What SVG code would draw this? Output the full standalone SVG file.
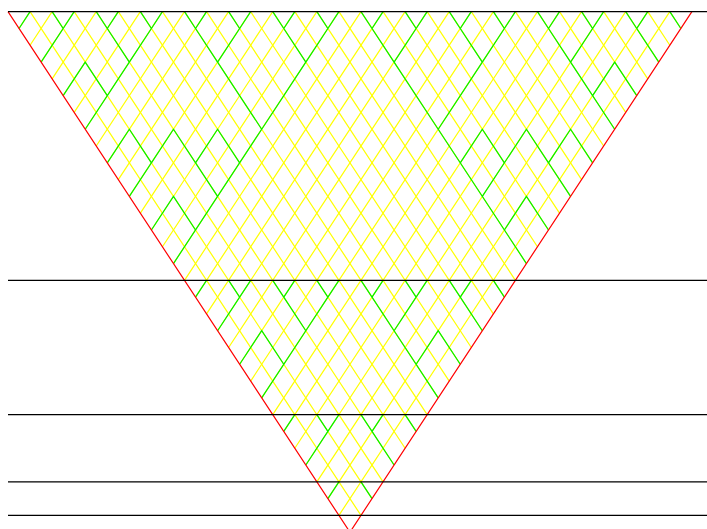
<svg xmlns="http://www.w3.org/2000/svg" width="707" height="529" viewBox="0 0 707 529">
<style>
path{fill:none;stroke-width:1.2;vector-effect:non-scaling-stroke;stroke-linecap:butt}
.y{stroke:#ffff00}
.g{stroke:#00f000}
.r{stroke:#ff0000}
.k{stroke:#000000;stroke-width:1.2}
</style>
<rect width="707" height="529" fill="#ffffff"/>
<g id="lattice" transform="matrix(11.0306 0 0 16.79 8 11.7)">
<path id="yellow-dr" class="y" d="M2 0L32 30M4 0L33 29M6 0L34 28M8 0L35 27M10 0L36 26M12 0L37 25M14 0L38 24M16 0L39 23M18 0L40 22M20 0L41 21M22 0L42 20M24 0L43 19M26 0L44 18M28 0L45 17M30 0L46 16M32 0L47 15M34 0L48 14M36 0L49 13M38 0L50 12M40 0L51 11M42 0L52 10M44 0L53 9M46 0L54 8M48 0L55 7M50 0L56 6M52 0L57 5M54 0L58 4M56 0L59 3M58 0L60 2M60 0L61 1"/>
<path id="yellow-dl" class="y" d="M2 0L1 1M4 0L2 2M6 0L3 3M8 0L4 4M10 0L5 5M12 0L6 6M14 0L7 7M16 0L8 8M18 0L9 9M20 0L10 10M22 0L11 11M24 0L12 12M26 0L13 13M28 0L14 14M30 0L15 15M32 0L16 16M34 0L17 17M36 0L18 18M38 0L19 19M40 0L20 20M42 0L21 21M44 0L22 22M46 0L23 23M48 0L24 24M50 0L25 25M52 0L26 26M54 0L27 27M56 0L28 28M58 0L29 29M60 0L30 30"/>
<path id="green-a-left" class="g" d="M2 0L1 1M4 0L5 1L3 3M6 0L5 1M8 0L9 1L11 3M10 0L9 1M12 0L13 1M14 0L13 1L11 3L7 7M5 5L7 3L9 5M16 0L17 1L19 3L23 7M18 0L17 1M20 0L21 1M22 0L21 1L19 3M24 0L25 1L27 3M26 0L25 1M28 0L29 1M30 0L29 1L27 3L23 7L15 15M13 9L15 7L19 11M9 9L11 7L13 9L11 11M13 13L15 11L17 13M17 9L19 7L21 9"/>
<path id="green-a-right" class="g" d="M60 0L61 1M58 0L57 1L59 3M56 0L57 1M54 0L53 1L51 3M52 0L53 1M50 0L49 1M48 0L49 1L51 3L55 7M57 5L55 3L53 5M46 0L45 1L43 3L39 7M44 0L45 1M42 0L41 1M40 0L41 1L43 3M38 0L37 1L35 3M36 0L37 1M34 0L33 1M32 0L33 1L35 3L39 7L47 15M49 9L47 7L43 11M53 9L51 7L49 9L51 11M49 13L47 11L45 13M45 9L43 7L41 9"/>
<path id="green-b" class="g" d="M18 16L17 17M20 16L21 17M22 16L21 17L19 19M24 16L25 17L27 19M26 16L25 17M28 16L29 17M30 16L29 17L27 19L23 23M21 21L23 19L25 21M44 16L45 17M42 16L41 17M40 16L41 17L43 19M38 16L37 17L35 19M36 16L37 17M34 16L33 17M32 16L33 17L35 19L39 23M41 21L39 19L37 21"/>
<path id="green-c" class="g" d="M26 24L25 25M28 24L29 25M30 24L29 25L27 27M36 24L37 25M34 24L33 25M32 24L33 25L35 27M30 28L29 29M32 28L33 29"/>
<path id="red-edges" class="r" d="M0 0L31 31L62 0"/>
</g>
<g id="levels">
<path class="k" d="M8 11.7H707M8 280.3H707M8 414.7H707M8 481.8H707M8 515.4H707"/>
</g>
</svg>
